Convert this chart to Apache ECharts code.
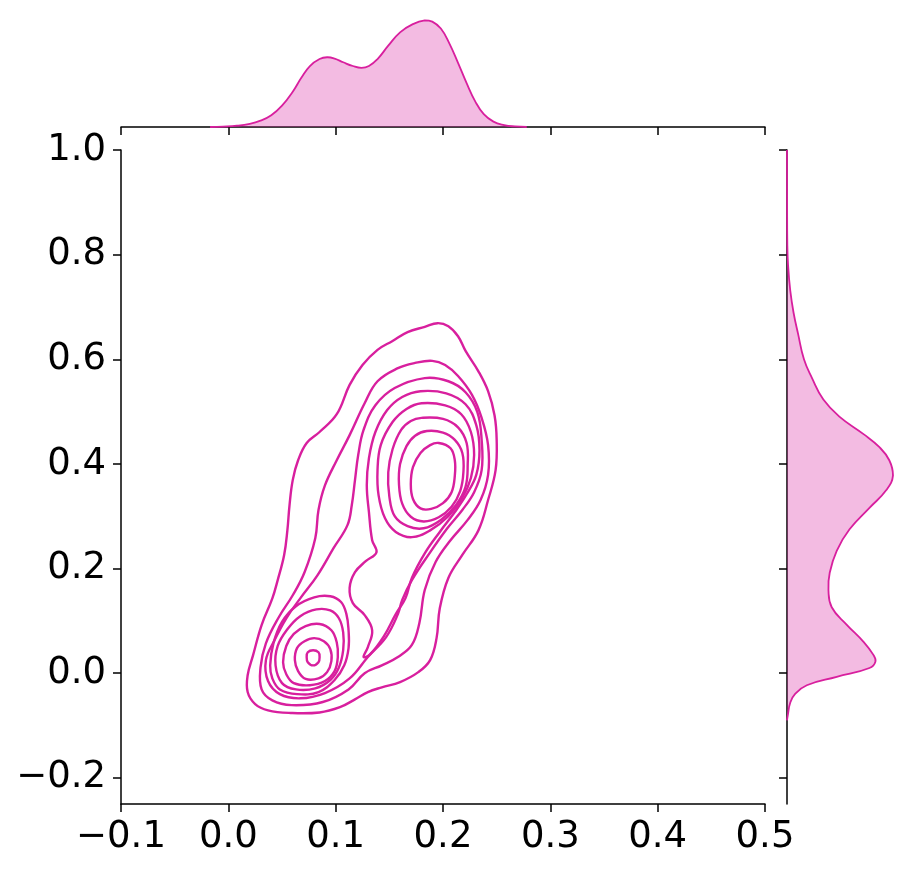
<!DOCTYPE html>
<html><head><meta charset="utf-8">
<script src="https://cdn.jsdelivr.net/npm/echarts@6/dist/echarts.min.js"></script>
<style>html,body{margin:0;padding:0;background:#fff}#c{width:909px;height:873px}</style>
</head><body><div id="c"></div>
<script>
const xTicks = [-0.1, 0, 0.1, 0.2, 0.3, 0.4, 0.5];
const yTicks = [-0.2, 0, 0.2, 0.4, 0.6, 0.8, 1.0];

const topX = [-0.017,-0.005,0.008,0.020,0.030,0.040,0.050,0.060,0.068,0.076,0.085,0.092,0.099,0.107,0.116,0.124,0.131,0.139,0.149,0.160,0.172,0.183,0.190,0.198,0.206,0.214,0.222,0.230,0.238,0.247,0.257,0.267,0.278];
const topDensity = [0,0.004,0.012,0.030,0.060,0.110,0.200,0.330,0.460,0.570,0.635,0.652,0.640,0.605,0.570,0.553,0.570,0.635,0.760,0.885,0.962,0.997,0.985,0.920,0.780,0.600,0.410,0.240,0.120,0.050,0.018,0.005,0];

const rightY = [-0.09,-0.081,-0.056,-0.040,-0.023,-0.007,0.010,0.022,0.035,0.060,0.093,0.126,0.159,0.192,0.234,0.275,0.316,0.350,0.378,0.407,0.432,0.457,0.490,0.523,0.565,0.600,0.648,0.689,0.731,0.780,0.820,0.900,1.000];
const rightDensity = [0,0.007,0.031,0.075,0.187,0.469,0.778,0.834,0.815,0.722,0.562,0.422,0.391,0.403,0.469,0.590,0.778,0.937,1.0,0.965,0.872,0.722,0.497,0.343,0.234,0.160,0.105,0.062,0.031,0.010,0.003,0.001,0];

const contourL1 = [[0.195,0.669],[0.205,0.663],[0.214,0.644],[0.221,0.616],[0.233,0.577],[0.242,0.539],[0.248,0.493],[0.250,0.446],[0.249,0.388],[0.242,0.331],[0.233,0.273],[0.218,0.226],[0.205,0.182],[0.197,0.124],[0.194,0.067],[0.188,0.025],[0.177,0.002],[0.160,-0.017],[0.143,-0.027],[0.130,-0.036],[0.118,-0.050],[0.104,-0.065],[0.085,-0.075],[0.058,-0.076],[0.037,-0.071],[0.025,-0.059],[0.018,-0.036],[0.018,-0.004],[0.023,0.034],[0.031,0.092],[0.041,0.143],[0.046,0.178],[0.052,0.226],[0.055,0.273],[0.057,0.321],[0.060,0.369],[0.065,0.407],[0.073,0.440],[0.085,0.461],[0.101,0.495],[0.113,0.551],[0.125,0.589],[0.139,0.618],[0.153,0.635],[0.167,0.652],[0.183,0.662]];
const contourL2 = [[0.190,0.597],[0.202,0.589],[0.214,0.568],[0.227,0.532],[0.236,0.488],[0.242,0.436],[0.242,0.379],[0.235,0.331],[0.223,0.293],[0.207,0.254],[0.193,0.212],[0.183,0.159],[0.178,0.096],[0.171,0.054],[0.158,0.031],[0.143,0.015],[0.127,0.000],[0.112,-0.031],[0.088,-0.055],[0.059,-0.061],[0.041,-0.052],[0.031,-0.031],[0.030,0.011],[0.035,0.057],[0.047,0.107],[0.060,0.149],[0.071,0.193],[0.081,0.258],[0.084,0.312],[0.090,0.359],[0.101,0.407],[0.113,0.455],[0.127,0.516],[0.139,0.558],[0.158,0.583],[0.174,0.593]];
const contourL3 = [[0.183,0.564],[0.205,0.558],[0.221,0.537],[0.232,0.499],[0.236,0.446],[0.236,0.388],[0.229,0.346],[0.218,0.312],[0.204,0.277],[0.188,0.231],[0.171,0.178],[0.162,0.140],[0.158,0.113],[0.147,0.069],[0.130,0.031],[0.113,-0.010],[0.090,-0.038],[0.067,-0.048],[0.048,-0.040],[0.037,-0.015],[0.035,0.025],[0.043,0.063],[0.054,0.105],[0.067,0.143],[0.083,0.187],[0.098,0.239],[0.111,0.283],[0.115,0.321],[0.118,0.369],[0.121,0.417],[0.126,0.465],[0.137,0.512],[0.155,0.545]];
const contourL4 = [[0.179,0.539],[0.203,0.535],[0.221,0.514],[0.231,0.474],[0.234,0.426],[0.231,0.379],[0.222,0.342],[0.211,0.308],[0.197,0.270],[0.183,0.229],[0.171,0.182],[0.165,0.143],[0.156,0.113],[0.145,0.071],[0.132,0.036],[0.126,0.031],[0.130,0.050],[0.134,0.082],[0.127,0.111],[0.116,0.134],[0.113,0.163],[0.118,0.193],[0.128,0.214],[0.138,0.231],[0.134,0.254],[0.131,0.308],[0.129,0.359],[0.131,0.411],[0.137,0.461],[0.148,0.503],[0.162,0.528]];
const contourL5 = [[0.180,0.516],[0.202,0.512],[0.217,0.495],[0.226,0.461],[0.229,0.417],[0.226,0.373],[0.218,0.335],[0.205,0.300],[0.188,0.273],[0.171,0.260],[0.156,0.270],[0.146,0.296],[0.140,0.340],[0.139,0.388],[0.142,0.436],[0.153,0.480],[0.166,0.505]];
const contourL6 = [[0.180,0.488],[0.200,0.486],[0.214,0.470],[0.222,0.440],[0.223,0.398],[0.221,0.356],[0.212,0.321],[0.198,0.293],[0.182,0.277],[0.167,0.281],[0.155,0.300],[0.150,0.338],[0.149,0.384],[0.153,0.428],[0.161,0.465],[0.170,0.482]];
const contourL7 = [[0.185,0.463],[0.200,0.460],[0.211,0.446],[0.218,0.421],[0.219,0.384],[0.216,0.348],[0.208,0.318],[0.196,0.298],[0.182,0.290],[0.170,0.299],[0.162,0.324],[0.159,0.361],[0.160,0.400],[0.166,0.434],[0.174,0.454]];
const contourL8 = [[0.196,0.440],[0.207,0.430],[0.211,0.407],[0.211,0.377],[0.208,0.346],[0.200,0.325],[0.189,0.314],[0.179,0.315],[0.172,0.333],[0.170,0.361],[0.172,0.394],[0.179,0.421],[0.188,0.436]];
const contourLow4 = [[0.039,0.015],[0.042,0.057],[0.050,0.098],[0.063,0.128],[0.080,0.145],[0.095,0.147],[0.105,0.136],[0.110,0.113],[0.112,0.082],[0.112,0.048],[0.108,0.015],[0.099,-0.013],[0.084,-0.036],[0.064,-0.040],[0.048,-0.031],[0.041,-0.010]];
const contourLow5 = [[0.044,0.015],[0.046,0.052],[0.055,0.084],[0.067,0.109],[0.082,0.122],[0.095,0.120],[0.103,0.105],[0.107,0.078],[0.107,0.044],[0.103,0.011],[0.095,-0.013],[0.081,-0.029],[0.063,-0.031],[0.050,-0.019]];
const contourLow6 = [[0.051,0.021],[0.054,0.052],[0.061,0.075],[0.072,0.090],[0.085,0.094],[0.096,0.082],[0.101,0.059],[0.102,0.031],[0.099,0.004],[0.090,-0.015],[0.076,-0.023],[0.061,-0.019],[0.054,-0.002]];
const contourLow7 = [[0.062,0.025],[0.064,0.048],[0.071,0.061],[0.080,0.067],[0.089,0.061],[0.095,0.046],[0.096,0.023],[0.092,0.002],[0.084,-0.010],[0.072,-0.011],[0.065,0.004]];
const contourLow8 = [[0.085,0.031],[0.084,0.040],[0.079,0.044],[0.074,0.040],[0.073,0.031],[0.074,0.021],[0.079,0.015],[0.084,0.021]];

const contours = [contourL1, contourL2, contourL3, contourL4, contourL5, contourL6, contourL7, contourL8,
  contourLow4, contourLow5, contourLow6, contourLow7, contourLow8];

const LINE = '#d81f9e';
const FILL = 'rgba(216,31,158,0.3)';
const FONT = 'DejaVu Sans';
const fmt = v => (v < 0 ? '\u2212' : '') + Math.abs(v).toFixed(1);
const axLine = {show: true, onZero: false, lineStyle: {color: '#000', width: 1.5}};
const tick = vals => ({show: true, inside: false, length: 8, lineStyle: {color: '#000', width: 1.5}, customValues: vals});
const lbl = (vals, margin) => ({show: true, customValues: vals, formatter: fmt, fontSize: 37, color: '#000', fontFamily: FONT, margin: margin});

function bbox(pts) {
  let x0 = Infinity, y0 = Infinity, x1 = -Infinity, y1 = -Infinity;
  pts.forEach(p => { x0 = Math.min(x0, p[0]); y0 = Math.min(y0, p[1]); x1 = Math.max(x1, p[0]); y1 = Math.max(y1, p[1]); });
  return [[x0, y0], [x1, y1]];
}
function marginalShape(pts) {
  const c = bbox(pts);
  return {type: 'group', children: [
    {type: 'polygon', shape: {points: pts, smooth: 0.45, smoothConstraint: c}, style: {fill: FILL, stroke: 'none'}},
    {type: 'polyline', shape: {points: pts, smooth: 0.45, smoothConstraint: c}, style: {fill: 'none', stroke: LINE, lineWidth: 1.8}}
  ]};
}

const chart = echarts.init(document.getElementById('c'), null, {renderer: 'canvas'});
chart.setOption({
  animation: false,
  backgroundColor: '#fff',
  grid: [
    {left: 121, top: 150, width: 644, height: 654, outerBoundsMode: 'none'},
    {left: 121, top: 20, width: 644, height: 107, outerBoundsMode: 'none'},
    {left: 787, top: 150, width: 106, height: 654, outerBoundsMode: 'none'}
  ],
  xAxis: [
    {gridIndex: 0, type: 'value', min: -0.1, max: 0.5, axisLine: axLine, axisTick: tick(xTicks), axisLabel: lbl(xTicks, 15), splitLine: {show: false}},
    {gridIndex: 1, type: 'value', min: -0.1, max: 0.5, position: 'bottom', axisLine: axLine, axisTick: tick(xTicks), axisLabel: {show: false}, splitLine: {show: false}},
    {gridIndex: 2, type: 'value', min: 0, max: 1, show: false}
  ],
  yAxis: [
    {gridIndex: 0, type: 'value', min: -0.25, max: 1.0, axisLine: axLine, axisTick: tick(yTicks), axisLabel: lbl(yTicks, 15), splitLine: {show: false}},
    {gridIndex: 1, type: 'value', min: 0, max: 1, show: false},
    {gridIndex: 2, type: 'value', min: -0.25, max: 1.0, position: 'left', axisLine: axLine, axisTick: tick(yTicks), axisLabel: {show: false}, splitLine: {show: false}}
  ],
  series: [
    {
      type: 'custom', xAxisIndex: 1, yAxisIndex: 1, silent: true, data: [[topX[0], 0]],
      renderItem: (p, api) => marginalShape(topX.map((x, i) => api.coord([x, topDensity[i]])))
    },
    {
      type: 'custom', xAxisIndex: 2, yAxisIndex: 2, silent: true, data: [[0, rightY[0]]],
      renderItem: (p, api) => marginalShape(rightY.map((y, i) => api.coord([rightDensity[i], y])))
    },
    {
      type: 'custom', xAxisIndex: 0, yAxisIndex: 0, silent: true,
      data: contours.map(c => [c[0][0], c[0][1]]),
      renderItem: (p, api) => {
        const pts = contours[p.dataIndex].map(pt => api.coord(pt));
        return {type: 'polygon', shape: {points: pts, smooth: 0.4}, style: {fill: 'none', stroke: LINE, lineWidth: 2.4}};
      }
    }
  ]
});
</script>
</body></html>
